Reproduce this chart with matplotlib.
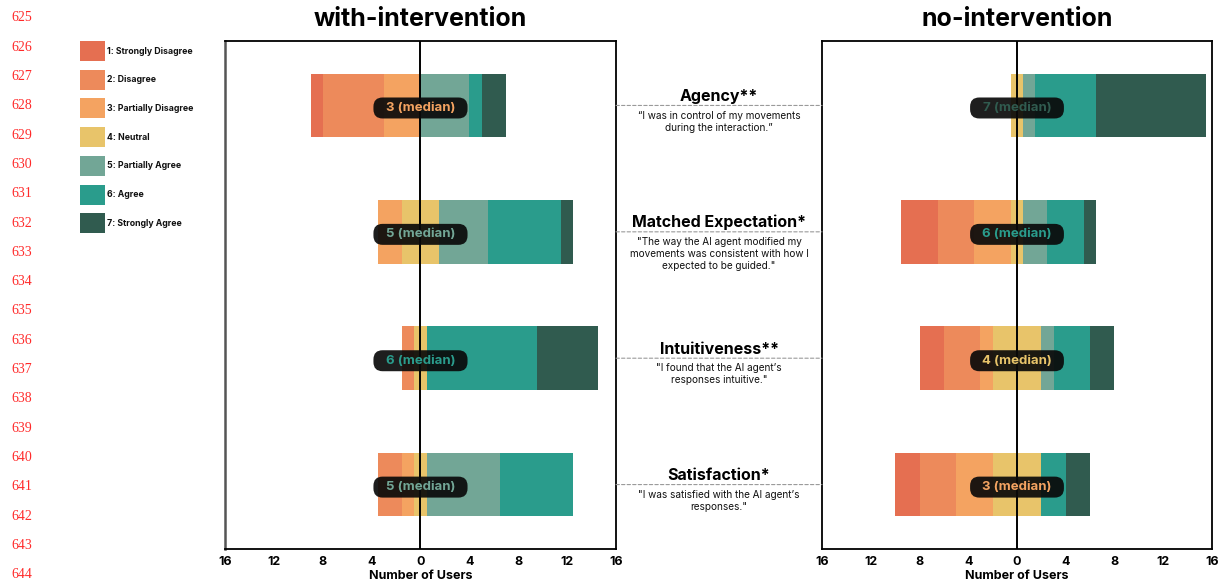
"""
Diverging Likert bar charts: with-intervention vs. no-intervention.
"""

import matplotlib
matplotlib.use("Agg")
import matplotlib.pyplot as plt
import matplotlib.transforms as mtransforms
from matplotlib.patches import Rectangle, FancyBboxPatch, ConnectionPatch
import numpy as np

plt.rcParams["font.family"] = ["Inter", "DejaVu Sans"]

LEVEL_LABELS = ["1: Strongly Disagree", "2: Disagree", "3: Partially Disagree",
                "4: Neutral", "5: Partially Agree", "6: Agree", "7: Strongly Agree"]
LEVEL_COLORS = ["#e56f51", "#ed8a5b", "#f4a361", "#e8c46a",
                "#72a696", "#2a9c8c", "#305b4f"]

QUESTIONS = ["Agency**", "Matched Expectation*", "Intuitiveness**", "Satisfaction*"]
QUOTES = [
    "\u201cI was in control of my movements\nduring the interaction.\u201d",
    "\"The way the AI agent modified my\nmovements was consistent with how I\nexpected to be guided.\"",
    "\"I found that the AI agent\u2019s\nresponses intuitive.\"",
    "\"I was satisfied with the AI agent\u2019s\nresponses.\"",
]

# counts per question for levels 1..7
WITH_COUNTS = [
    [1, 5, 3, 0, 4, 1, 2],
    [0, 0, 2, 3, 4, 6, 1],
    [0, 1, 0, 1, 0, 9, 5],
    [0, 2, 1, 1, 6, 6, 0],
]
NO_COUNTS = [
    [0, 0, 0, 1, 1, 5, 9],
    [3, 3, 3, 1, 2, 3, 1],
    [2, 3, 1, 4, 1, 3, 2],
    [2, 3, 3, 4, 0, 2, 2],
]
WITH_MEDIANS = [3, 5, 6, 5]
NO_MEDIANS = [7, 6, 4, 3]

XTICKS = [-16, -12, -8, -4, 0, 4, 8, 12, 16]
LINE_NUMBERS = list(range(625, 645))

fig = plt.figure(figsize=(12.22, 5.85), dpi=100)
ax_w = fig.add_axes([0.1841, 0.0615, 0.3200, 0.8684])
ax_n = fig.add_axes([0.6727, 0.0615, 0.3191, 0.8684])


def draw_panel(ax, counts, medians, title):
    counts = np.array(counts, dtype=float)
    y = np.arange(len(counts))
    left = -(counts[:, :3].sum(axis=1) + counts[:, 3] / 2)
    for k in range(7):
        ax.barh(y, counts[:, k], left=left, height=0.505,
                color=LEVEL_COLORS[k], linewidth=0, zorder=2)
        left = left + counts[:, k]
    ax.axvline(0, color="black", lw=1.4, zorder=3)

    ax.set_xlim(-16, 16)
    ax.set_ylim(len(counts) - 0.5 + 0.01, -0.5 - 0.01)

    # median badges: rounded dark boxes centred on zero
    aspect = (1 / 126.3) / (1 / 12.2)
    for yi, m in zip(y, medians):
        yc = yi + 0.02
        box = FancyBboxPatch((-3.85, yc - 0.083), 7.7, 0.166,
                             boxstyle="round,pad=0,rounding_size=0.75",
                             mutation_aspect=aspect,
                             fc="#0a0a0a", ec="none", alpha=0.92, zorder=4)
        ax.add_patch(box)
        ax.text(0, yc, f"{m} (median)", ha="center", va="center",
                fontsize=9.5, fontweight="bold", color=LEVEL_COLORS[m - 1],
                zorder=5)

    ax.set_xticks(XTICKS)
    ax.set_xticklabels([str(abs(t)) for t in XTICKS],
                       fontsize=9, fontweight="bold")
    ax.tick_params(axis="x", length=0, pad=5)
    ax.set_yticks([])
    ax.set_xlabel("Number of Users", fontsize=9, fontweight="bold", labelpad=1.5)
    ax.set_title(title, fontsize=18, fontweight="bold", pad=11)
    for s in ax.spines.values():
        s.set_linewidth(1.3)
        s.set_color("black")


draw_panel(ax_w, WITH_COUNTS, WITH_MEDIANS, "with-intervention")
draw_panel(ax_n, NO_COUNTS, NO_MEDIANS, "no-intervention")
ax_w.spines["left"].set_color("#555555")
ax_w.spines["left"].set_linewidth(1.8)

# question labels between the panels
mid_x = (0.1841 + 0.3200 + 0.6727) / 2
trans = mtransforms.blended_transform_factory(fig.transFigure, ax_w.transData)
for i, (q, quote) in enumerate(zip(QUESTIONS, QUOTES)):
    con = ConnectionPatch(xyA=(16, i), coordsA=ax_w.transData,
                          xyB=(-16, i), coordsB=ax_n.transData,
                          linestyle=(0, (3, 2)), color="#9a9a9a", lw=0.8)
    fig.add_artist(con)
    fig.text(mid_x, i - 0.012, q, transform=trans, ha="center", va="bottom",
             fontsize=11.5, fontweight="bold")
    fig.text(mid_x, i + 0.04, quote, transform=trans, ha="center", va="top",
             fontsize=7.2, linespacing=1.25, color="#111111")

# legend swatches
for k, (lab, col) in enumerate(zip(LEVEL_LABELS, LEVEL_COLORS)):
    yc = 51 + k * 28.7
    fig.add_artist(Rectangle((80 / 1222, 1 - (yc + 10) / 585), 25 / 1222, 20 / 585,
                             transform=fig.transFigure, fc=col, ec="none"))
    fig.text(107 / 1222, 1 - yc / 585, lab, ha="left", va="center",
             fontsize=6.3, fontweight="bold", color="#111111")

# line numbers in the margin
for j, n in enumerate(LINE_NUMBERS):
    yc = 17.7 + j * 29.33
    fig.text(11 / 1222, 1 - yc / 585, str(n), ha="left", va="center",
             fontsize=10, color="#ff2a2a", family=["Liberation Serif", "DejaVu Serif"])

fig.savefig("out.png", dpi=100)
